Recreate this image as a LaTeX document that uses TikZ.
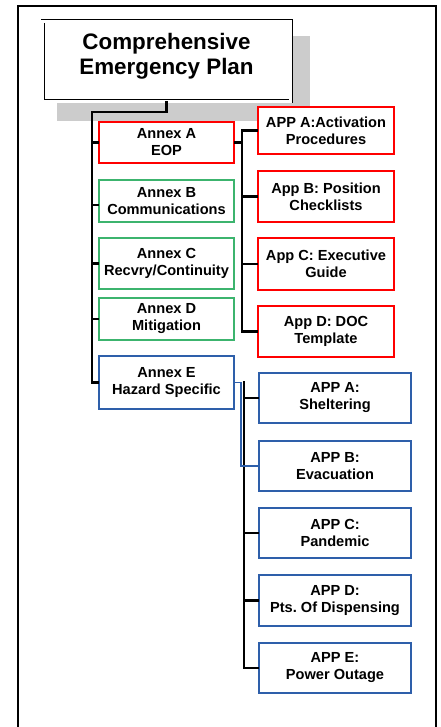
\documentclass[tikz,border=0pt]{standalone}
\usepackage{fontspec}
\setmainfont{Liberation Sans}
\frenchspacing
\definecolor{boxred}{RGB}{255,0,0}
\definecolor{boxgreen}{RGB}{60,180,110}
\definecolor{boxblue}{RGB}{46,95,170}
\definecolor{shadowgray}{RGB}{204,204,204}
\begin{document}
\begin{tikzpicture}[x=1pt,y=-1pt,
  txt/.style={align=center,font=\fontsize{14.6}{17}\selectfont\bfseries,inner sep=0pt},
  redbox/.style={txt,draw=boxred,line width=2pt,fill=white},
  greenbox/.style={txt,draw=boxgreen,line width=1.4pt,fill=white},
  bluebox/.style={txt,draw=boxblue,line width=2pt,fill=white},
  conn/.style={draw=black,line width=2.2pt,line cap=rect},
  thinconn/.style={draw=boxblue,line width=1.3pt}]
\useasboundingbox (0,0) rectangle (440,727);
\fill[white] (0,0) rectangle (440,727);
% outer frame
\draw[line width=2.5pt] (18,727) -- (18,6) -- (436,6) -- (436,727);
% shadow
\fill[shadowgray] (57,36) rectangle (310,121);
% title box
\node[draw=black,double=white,double distance=2.2pt,line width=0.9pt,fill=white,
  minimum width=248pt,minimum height=80pt,inner sep=0pt] (top) at (166.5,61.5) {};
\node[align=center,font=\fontsize{22.4}{25.5}\selectfont\bfseries,inner sep=0pt] (toptext) at (166.5,56.5)
  {Comprehensive\\Emergency Plan};
% annexes
\node[redbox,minimum width=135pt,minimum height=41pt] (annexA) at (166.5,142.5) {Annex A\\EOP};
\node[greenbox,minimum width=135pt,minimum height=42pt] (annexB) at (166.5,201) {Annex B\\Communications};
\node[greenbox,minimum width=135pt,minimum height=51pt] (annexC) at (166.5,263.5) {Annex C\\Recvry/Continuity};
\node[greenbox,minimum width=135pt,minimum height=42pt] (annexD) at (166.5,319) {Annex D\\Mitigation};
\node[bluebox,minimum width=135pt,minimum height=53pt] (annexE) at (166.5,382.5) {Annex E\\Hazard Specific};
% red apps
\node[redbox,minimum width=136pt,minimum height=47pt] (rA) at (326,130.5) {APP A:Activation\\Procedures};
\node[redbox,minimum width=136pt,minimum height=51pt] (rB) at (326,196.5) {App B: Position\\Checklists};
\node[redbox,minimum width=136pt,minimum height=52pt] (rC) at (326,264) {App C: Executive\\Guide};
\node[redbox,minimum width=136pt,minimum height=51pt] (rD) at (326,331.5) {App D: DOC\\Template};
% blue apps
\node[bluebox,minimum width=152pt,minimum height=50pt] (bA) at (335,398) {APP A:\\Sheltering};
\node[bluebox,minimum width=152pt,minimum height=50pt] (bB) at (335,466) {APP B:\\Evacuation};
\node[bluebox,minimum width=152pt,minimum height=50pt] (bC) at (335,533) {APP C:\\Pandemic};
\node[bluebox,minimum width=152pt,minimum height=51pt] (bD) at (335,600.5) {APP D:\\Pts. Of Dispensing};
\node[bluebox,minimum width=152pt,minimum height=50pt] (bE) at (335,668) {APP E:\\Power Outage};
% trunk coordinates
\coordinate (trunk) at (92,112);
\coordinate (rt) at (242,0);
\coordinate (bt) at (243.8,0);
\coordinate (bt2) at (241,0);
% main trunk
\draw[conn] (top.south) -- (top.south |- trunk) -- (trunk) -- (annexE.west -| trunk) -- (annexE.west);
\draw[conn] (annexA.west -| trunk) -- (annexA.west);
\draw[conn] ([yshift=-4pt]annexB.west -| trunk) -- ([yshift=-4pt]annexB.west);
\draw[conn] (annexC.west -| trunk) -- (annexC.west);
\draw[conn] (annexD.west -| trunk) -- (annexD.west);
% red bracket
\draw[conn] (annexA.east) -- (annexA.east -| rt);
\draw[conn] (rA.west) -- (rA.west -| rt) -- (rD.west -| rt) -- (rD.west);
\draw[conn] (rB.west -| rt) -- (rB.west);
\draw[conn] (rC.west -| rt) -- (rC.west);
% blue bracket
\draw[conn] (annexE.east -| bt) -- (bE.west -| bt) -- (bE.west);
\draw[conn] (bA.west -| bt) -- (bA.west);
\draw[conn] (bC.west -| bt) -- (bC.west);
\draw[conn] (bD.west -| bt) -- (bD.west);
\draw[thinconn] (annexE.east) -- (annexE.east -| bt2) -- (bB.west -| bt2) -- (bB.west);
\end{tikzpicture}
\end{document}
